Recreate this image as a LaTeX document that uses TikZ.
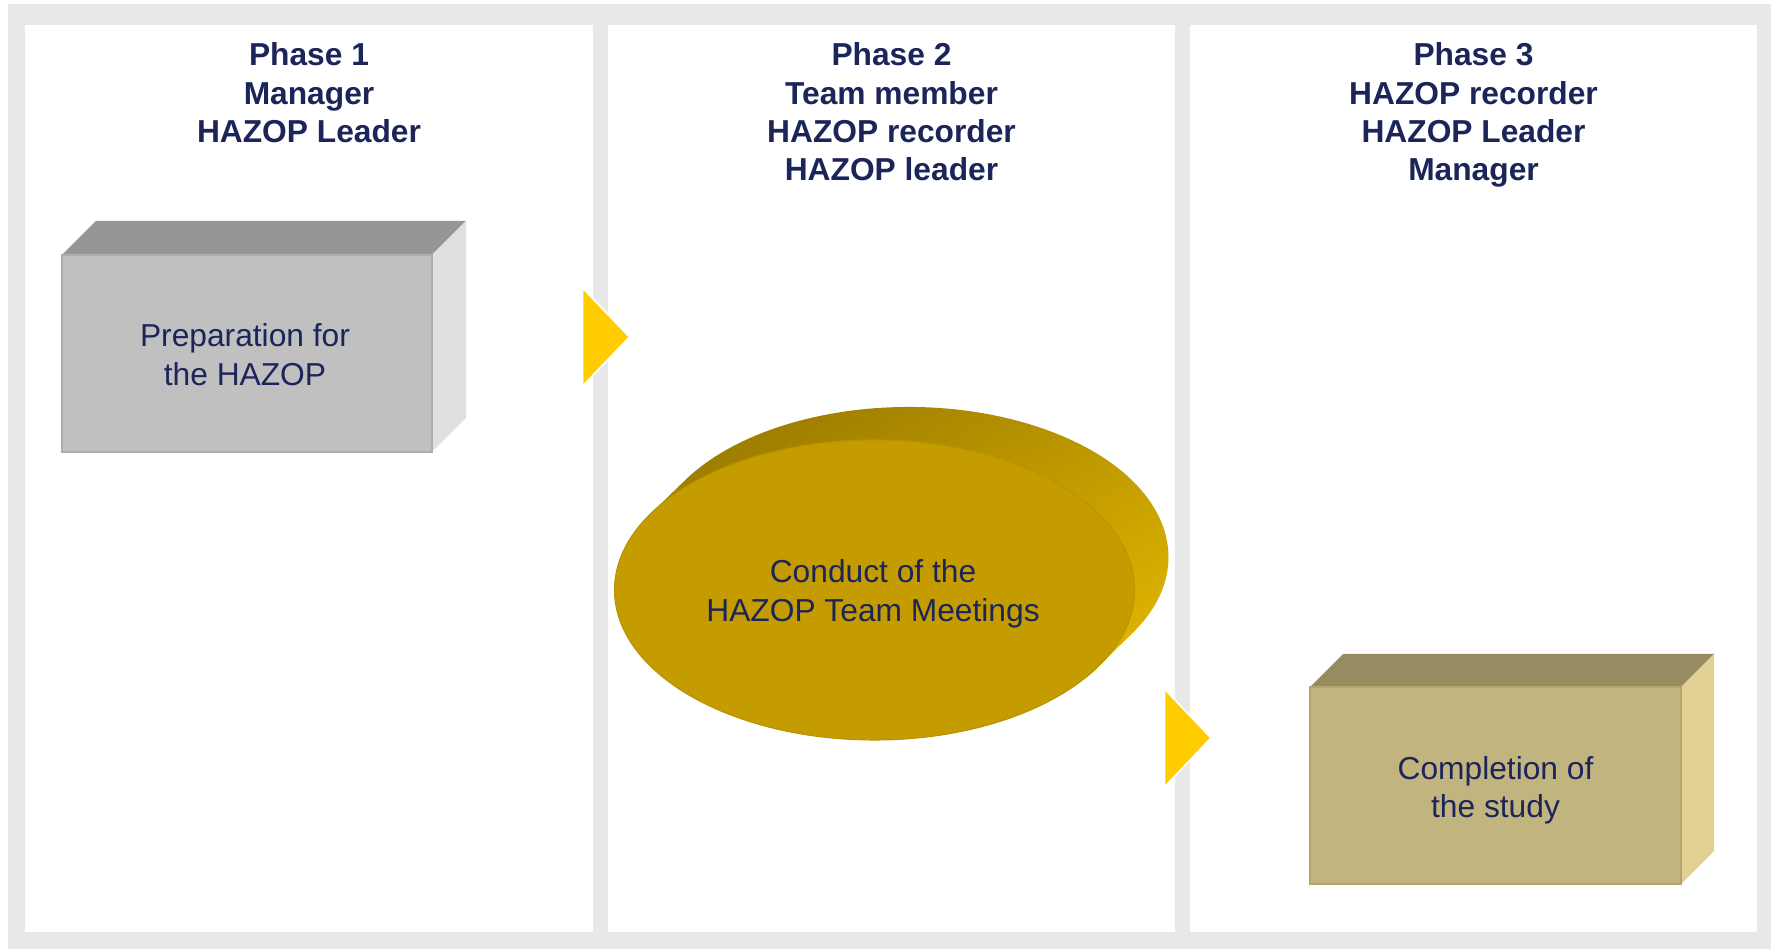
\documentclass[tikz,border=0pt]{standalone}
\usepackage{fontspec}
\setmainfont{Liberation Sans}
\definecolor{bg}{HTML}{E8E8E8}
\definecolor{ink}{HTML}{1C2559}
\definecolor{arrowy}{HTML}{FFCC00}
\definecolor{gfront}{HTML}{C0C0C0}
\definecolor{gtop}{HTML}{969696}
\definecolor{gside}{HTML}{E0E0E0}
\definecolor{gedge}{HTML}{ADADAD}
\definecolor{kfront}{HTML}{C2B47F}
\definecolor{ktop}{HTML}{978B62}
\definecolor{kside}{HTML}{E0D192}
\definecolor{kedge}{HTML}{B3A56C}
\definecolor{discfront}{HTML}{C49C00}
\definecolor{discedge}{HTML}{BA9400}
\definecolor{discdark}{HTML}{987800}
\definecolor{disclight}{HTML}{E6BA00}
\begin{document}
\begin{tikzpicture}[x=0.75pt,y=0.75pt,
  headtext/.style={font=\fontsize{23.8pt}{28.8pt}\selectfont\bfseries, text=ink, anchor=base, inner sep=0pt},
  boxtext/.style={font=\fontsize{23.8pt}{28.8pt}\selectfont, text=ink, anchor=base, inner sep=0pt},
  panel/.style={fill=white, draw=none},
  chevron/.style={fill=arrowy, draw=white, line width=1.2pt, line join=miter}]
\useasboundingbox (0,0) rectangle (1771,949);
\fill[white] (0,0) rectangle (1771,949);
\fill[bg] (8,0) rectangle (1771,945);
% panels
\fill[panel] (25,17) rectangle (593,924);
\fill[panel] (608,17) rectangle (1175,924);
\fill[panel] (1190,17) rectangle (1757,924);
% headings
\foreach \t [count=\i] in {Phase 1, Manager, HAZOP Leader}
  \node[headtext] (ha\i) at (309,{921.7-38.4*\i}) {\t};
\foreach \t [count=\i] in {Phase 2, Team member, HAZOP recorder, HAZOP leader}
  \node[headtext] (hb\i) at (891.5,{921.7-38.4*\i}) {\t};
\foreach \t [count=\i] in {Phase 3, HAZOP recorder, HAZOP Leader, Manager}
  \node[headtext] (hc\i) at (1473.5,{921.7-38.4*\i}) {\t};
% box 1
\fill[gtop] (62,694) -- (96,728) -- (466,728) -- (432,694) -- cycle;
\fill[gside] (432,694) -- (466,728) -- (466,531) -- (432,497) -- cycle;
\fill[gfront, draw=gedge, line width=1.2pt] (62,497) rectangle (432,694);
\node[boxtext] (prepa) at (245,602) {Preparation for};
\node[boxtext] (prepb) at (245,563.5) {the HAZOP};
% chevrons
\fill[chevron] (582.6,661) -- (629.5,612) -- (582.6,563) -- cycle;
\fill[chevron] (1164.5,260) -- (1211,211) -- (1164.5,162) -- cycle;
% disc
\shade[top color=discdark, bottom color=disclight, shading angle=30]
  (684.9,468.6) arc[start angle=149.3, end angle=-30.7, x radius=260, y radius=150]
  -- (1098.1,282.4) arc[start angle=-30.7, end angle=-210.7, x radius=260, y radius=150] -- cycle;
\fill[discfront, draw=discedge, line width=0.8pt] (874.5,359) ellipse[x radius=260, y radius=150];
\node[boxtext] (conda) at (873,366) {Conduct of the};
\node[boxtext] (condb) at (873,327.5) {HAZOP Team Meetings};
% box 3
\fill[ktop] (1310,262) -- (1343,295) -- (1714,295) -- (1681,262) -- cycle;
\fill[kside] (1681,262) -- (1714,295) -- (1714,98) -- (1681,65) -- cycle;
\fill[kfront, draw=kedge, line width=1.2pt] (1310,65) rectangle (1681,262);
\node[boxtext] (compa) at (1495.5,169.5) {Completion of};
\node[boxtext] (compb) at (1495.5,131) {the study};
\end{tikzpicture}
\end{document}
